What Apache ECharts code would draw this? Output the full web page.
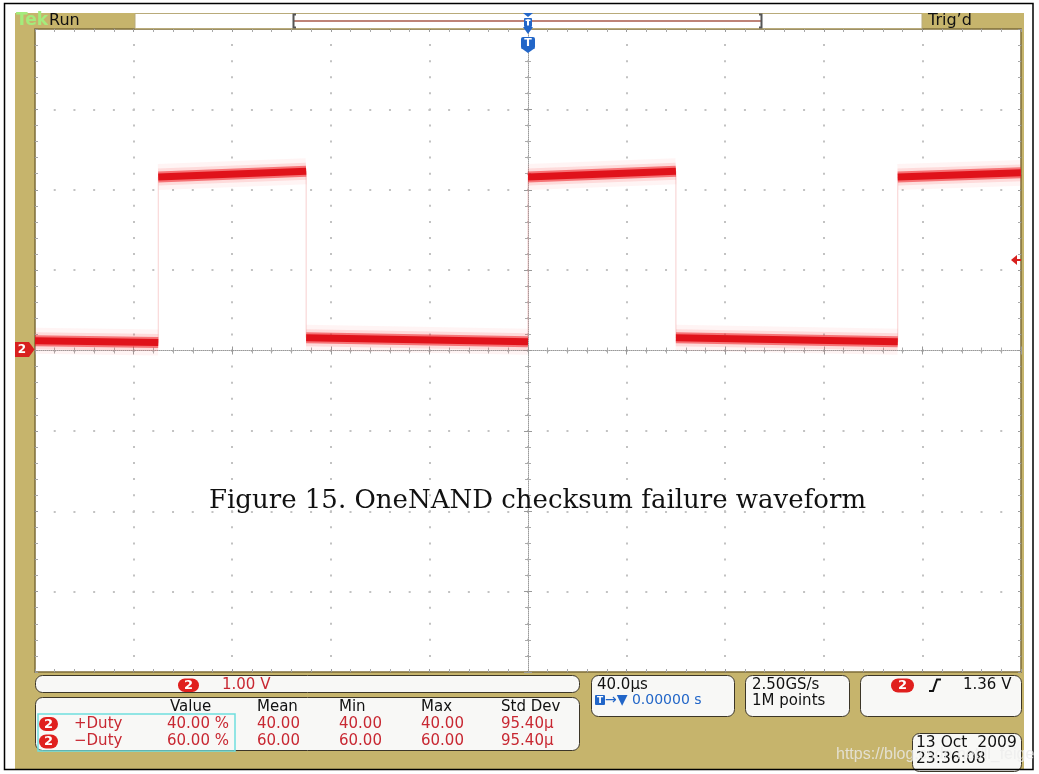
<!DOCTYPE html>
<html><head><meta charset="utf-8">
<script src="https://cdn.jsdelivr.net/npm/echarts@6/dist/echarts.min.js"></script>
<style>html,body{margin:0;padding:0;background:#fff}#c{width:1039px;height:774px}</style>
</head><body><div id="c"></div>
<script>
// ---------- data ----------
const timeMin = -200, timeMax = 200, timeDiv = 40;   // µs, 40 µs/div, 10 divisions
const voltMin = -4, voltMax = 4, voltDiv = 1;         // V, 1 V/div, 8 divisions
// channel 2 waveform: flat segments between edges (µs, V)
const segStartT = [-200, -150, -90, 0, 60, 150];
const segEndT   = [-150, -90, 0, 60, 150, 200];
const segStartV = [0.12, 2.16, 0.16, 2.16, 0.16, 2.16];
const segEndV   = [0.10, 2.23, 0.11, 2.23, 0.11, 2.21];
// measurement table
const measHeaders = ['Value', 'Mean', 'Min', 'Max', 'Std Dev'];
const measNames   = ['+Duty', '\u2212Duty'];
const measValue   = [40.00, 60.00];
const measMean    = [40.00, 60.00];
const measMin     = [40.00, 60.00];
const measMax     = [40.00, 60.00];
const measStdDev  = [95.40, 95.40];   // µ
// readouts
const chScale = '1.00 V';
const timeBase = '40.0\u00b5s';
const trigPos = '0.00000 s';
const sampleRate = '2.50GS/s';
const recordLen = '1M points';
const trigLevel = '1.36 V';
const dateText = '13 Oct  2009';
const timeText = '23:36:08';
const titleText = 'Figure 15. OneNAND checksum failure waveform';
const watermark = 'https://blog.csdn.net/ll_feige';

// ---------- styles ----------
const TAN = '#c6b46c', RED = '#c82832', BLUE = '#2266c8', BADGE = '#e0201e';
const FONT = '"DejaVu Sans", Verdana, sans-serif';
const GL = 35, GT = 29, GW = 986, GH = 643;

const chart = echarts.init(document.getElementById('c'), null, {renderer: 'canvas'});

const segments = segStartT.map((t, i) => [[t, segStartV[i]], [segEndT[i], segEndV[i]]]);
const tracePath = [];
segments.forEach(s => { tracePath.push(s[0], s[1]); });

const layers = [
  {w: 26, c: 'rgba(255,120,120,0.08)'},
  {w: 17, c: 'rgba(248,70,70,0.14)'},
  {w: 11, c: 'rgba(238,30,34,0.55)'},
  {w: 7,  c: '#e0121a'}
];
const series = [{
  type: 'line', data: tracePath, showSymbol: false, silent: true,
  lineStyle: {color: 'rgba(240,150,150,0.45)', width: 1}, z: 2
}];
layers.forEach(L => segments.forEach(s => series.push({
  type: 'line', data: s, showSymbol: false, silent: true,
  lineStyle: {color: L.c, width: L.w, cap: 'butt'}, z: 3
})));

const hidden = {show: false};
function xAx(pos, opt) {
  return Object.assign({
    type: 'value', min: timeMin, max: timeMax, interval: timeDiv, position: pos,
    axisLabel: hidden, splitLine: hidden
  }, opt);
}
function yAx(pos, opt) {
  return Object.assign({
    type: 'value', min: voltMin, max: voltMax, interval: voltDiv, position: pos,
    axisLabel: hidden, splitLine: hidden
  }, opt);
}
const centerLine = {show: true, onZero: true, onZeroAxisIndex: 0, lineStyle: {color: '#9a9a9a', width: 1, type: [1, 1]}};
const centerTick = {show: true, inside: false, length: 4, lineStyle: {color: '#999', width: 1}};
const centerMinor = {show: true, splitNumber: 5, length: 3, lineStyle: {color: '#aaa', width: 1}};
const borderLine = {show: true, onZero: false, lineStyle: {color: '#7d6c38', width: 1.5}};
const borderTick = {show: true, inside: true, length: 3, lineStyle: {color: '#9a9a9a', width: 1}};
const borderMinor = {show: true, splitNumber: 5, length: 3, lineStyle: {color: '#a8a8a8', width: 1}};

const xAxis = [
  xAx('bottom', {axisLine: centerLine, axisTick: centerTick, minorTick: centerMinor,
    splitLine: {show: true, lineStyle: {color: '#c2c2c2', width: 2, type: [2, GH / 40 - 2], dashOffset: 1}}}),
  xAx('top', {axisLine: Object.assign({}, centerLine, {show: false}), axisTick: centerTick, minorTick: centerMinor}),
  xAx('bottom', {axisLine: borderLine, axisTick: borderTick, minorTick: borderMinor}),
  xAx('top', {axisLine: borderLine, axisTick: borderTick, minorTick: borderMinor})
];
const yAxis = [
  yAx('left', {axisLine: centerLine, axisTick: centerTick, minorTick: centerMinor,
    splitLine: {show: true, lineStyle: {color: '#c2c2c2', width: 2, type: [2, GW / 50 - 2], dashOffset: 1}}}),
  yAx('right', {axisLine: Object.assign({}, centerLine, {show: false}), axisTick: centerTick, minorTick: centerMinor}),
  yAx('left', {axisLine: borderLine, axisTick: borderTick, minorTick: borderMinor}),
  yAx('right', {axisLine: borderLine, axisTick: borderTick, minorTick: borderMinor})
];

// ---------- decoration helpers ----------
const G = [];
function rect(x, y, w, h, r, fill, stroke, lw, z) {
  G.push({type: 'rect', z: z == null ? 10 : z, silent: true, shape: {x, y, width: w, height: h, r: r || 0},
    style: {fill: fill || 'none', stroke: stroke || null, lineWidth: lw || 1}});
}
function text(x, y, t, fill, size, opt) {
  opt = opt || {};
  G.push({type: 'text', z: opt.z || 12, silent: true, style: {
    text: t, x, y, fill, font: (opt.weight || 'normal') + ' ' + size + 'px ' + (opt.family || FONT),
    align: opt.align || 'left', textAlign: opt.align || 'left',
    verticalAlign: 'middle', textVerticalAlign: 'middle', opacity: opt.opacity == null ? 1 : opt.opacity
  }});
}
function badge(x, y, w, h) {
  rect(x, y, w, h, h / 2, BADGE, null, 0, 11);
  text(x + w / 2, y + h / 2 + 0.5, '2', '#fff', 13, {weight: 'bold', align: 'center'});
}
function poly(points, fill, stroke, lw, z) {
  G.push({type: fill ? 'polygon' : 'polyline', z: z || 11, silent: true, shape: {points},
    style: {fill: fill || 'none', stroke: stroke || null, lineWidth: lw || 1}});
}

// frame
rect(15, 13, 1009, 756, 0, TAN, null, 0, -10);
rect(4.5, 3.5, 1028.5, 766, 0, 'none', '#000', 1.5, 20);
// top bar
rect(135, 13.5, 787, 15, 0, '#fff', '#b9ab7a', 1, 5);
text(16, 21, 'Tek', '#a4ec7c', 17, {weight: 'bold'});
text(49, 21, 'Run', '#111', 16);
text(928, 21, 'Trig\u2019d', '#111', 16);
poly([[293, 21], [762, 21]], null, '#a85a4a', 1.5, 11);
poly([[296, 14.5], [293.5, 14.5], [293.5, 27.5], [296, 27.5]], null, '#555', 2, 11);
poly([[759, 14.5], [761.5, 14.5], [761.5, 27.5], [759, 27.5]], null, '#555', 2, 11);
// trigger position icon
poly([[523, 13], [533, 13], [528, 17]], BLUE, null, 0, 12);
rect(524, 18, 8, 9, 1, BLUE, null, 0, 12);
rect(527, 19.5, 2, 6, 0, '#fff', null, 0, 13);
rect(525.5, 19.5, 5, 1.5, 0, '#fff', null, 0, 13);
poly([[523, 27], [533, 27], [528, 34]], BLUE, null, 0, 12);
rect(521, 37, 14, 12, 2, BLUE, null, 0, 12);
poly([[521, 48], [535, 48], [528, 53]], BLUE, null, 0, 12);
text(528, 43.5, 'T', '#fff', 11, {weight: 'bold', align: 'center', z: 13});
// channel 2 ground marker & trigger level arrow
poly([[15, 342], [29, 342], [34.5, 349.5], [29, 357], [15, 357]], '#d8201e', null, 0, 12);
text(22, 350, '2', '#fff', 12, {weight: 'bold', align: 'center', z: 13});
poly([[1011, 260], [1017, 255], [1017, 265]], '#d8201e', null, 0, 12);
poly([[1016, 260], [1021, 260]], null, '#d8201e', 2, 12);

// bottom readouts
const BOX = '#f8f8f6', EDGE = '#3c3628';
rect(35.5, 675.5, 544, 17, 7, BOX, EDGE, 1);
badge(178, 678.5, 21, 13.5);
text(222, 685, chScale, RED, 15);

rect(35.5, 697.5, 544, 53, 7, BOX, EDGE, 1);
rect(38, 714, 197, 37, 0, 'none', '#6fdede', 1.5, 11);
const colX = [170, 257, 339, 421, 501];
const valX = [167, 257, 339, 421, 501];
measHeaders.forEach((h, i) => text(colX[i], 707, h, '#111', 15));
const rowY = [724, 741.5];
measNames.forEach((n, r) => {
  badge(39, rowY[r] - 7, 19, 14);
  text(74, rowY[r], n, RED, 15);
  const vals = [measValue[r].toFixed(2) + ' %', measMean[r].toFixed(2), measMin[r].toFixed(2),
                measMax[r].toFixed(2), measStdDev[r].toFixed(2) + '\u00b5'];
  vals.forEach((v, i) => text(valX[i], rowY[r], v, RED, 15));
});

rect(591.5, 675.5, 143, 41, 7, BOX, EDGE, 1);
text(597, 685, timeBase, '#111', 15);
rect(595, 695, 10, 10, 1, BLUE, null, 0, 11);
text(600, 700.5, 'T', '#fff', 9, {weight: 'bold', align: 'center', z: 13});
text(605, 700, '\u2192\u25bc ' + trigPos, BLUE, 14);

rect(745.5, 675.5, 104, 41, 7, BOX, EDGE, 1);
text(752, 685, sampleRate, '#111', 15);
text(752, 701, recordLen, '#111', 15);

rect(860.5, 675.5, 161, 41, 7, BOX, EDGE, 1);
badge(891, 678.5, 23, 14);
poly([[929, 691], [933, 691], [937, 679.5], [941, 679.5]], null, '#111', 2, 12);
text(963, 685, trigLevel, '#111', 15);

rect(912.5, 733.5, 109, 38, 7, BOX, EDGE, 1);
text(916, 743, dateText, '#111', 15.5);
text(916, 759, timeText, '#111', 15.5);
text(836, 755, watermark, 'rgba(236,236,236,0.78)', 16, {family: '"Liberation Sans", Arial, sans-serif', z: 30});

chart.setOption({
  animation: false,
  backgroundColor: '#ffffff',
  title: {text: titleText, left: 209, top: 488, padding: 0,
    textStyle: {fontFamily: '"DejaVu Serif", serif', fontSize: 26, fontWeight: 'normal', color: '#111'}},
  grid: {left: GL, top: GT, width: GW, height: GH, show: true, backgroundColor: '#ffffff', borderWidth: 0},
  xAxis, yAxis, series, graphic: G
});
</script></body></html>
